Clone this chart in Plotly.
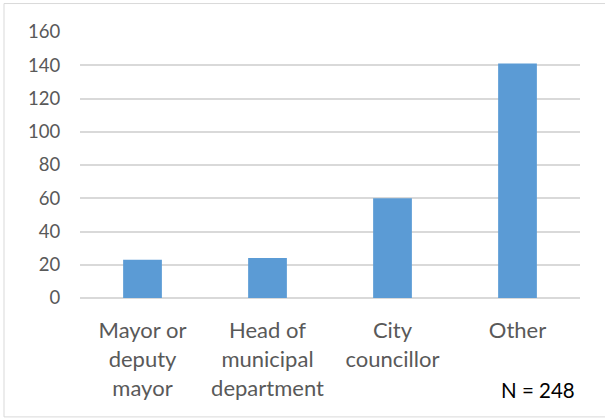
import plotly.graph_objects as go

categories = ["Mayor or<br>deputy<br>mayor", "Head of<br>municipal<br>department", "City<br>councillor", "Other"]
counts = [23, 24, 60, 141]
y_ticks = [0, 20, 40, 60, 80, 100, 120, 140, 160]
note = "N = 248"

TEXT = "#595959"
GRID = "#d9d9d9"
BAR = "#5b9bd5"
FONT = "Lato, 'Open Sans', sans-serif"

fig = go.Figure(
    go.Bar(x=categories, y=counts, marker=dict(color=BAR, line=dict(width=0)), width=0.31)
)

fig.update_layout(
    width=605,
    height=418,
    margin=dict(l=80, r=25, t=32, b=120),
    paper_bgcolor="white",
    plot_bgcolor="white",
    showlegend=False,
    font=dict(family=FONT, size=20, color=TEXT),
    xaxis=dict(
        type="category",
        showgrid=False,
        showline=False,
        zeroline=False,
        ticks="outside",
        ticklen=13,
        tickcolor="rgba(0,0,0,0)",
        tickfont=dict(family=FONT, size=22, color=TEXT),
    ),
    yaxis=dict(
        range=[0, 160],
        tickvals=y_ticks,
        showgrid=True,
        gridcolor=GRID,
        gridwidth=1.5,
        zeroline=True,
        zerolinecolor=GRID,
        zerolinewidth=1.5,
        showline=False,
        ticks="outside",
        ticklen=15,
        tickcolor="rgba(0,0,0,0)",
        tickfont=dict(family=FONT, size=18.5, color=TEXT),
    ),
    shapes=[
        dict(
            type="rect",
            xref="paper",
            yref="paper",
            x0=-0.152,
            x1=1.2,
            y0=-0.447,
            y1=1.107,
            line=dict(color=GRID, width=1),
            fillcolor="rgba(0,0,0,0)",
            layer="below",
        )
    ],
    annotations=[
        dict(
            text=note,
            xref="paper",
            yref="paper",
            x=0.994,
            y=-0.346,
            xanchor="right",
            yanchor="middle",
            showarrow=False,
            font=dict(family=FONT, size=20.5, color="black"),
        )
    ],
)

fig.write_html("out.html")
